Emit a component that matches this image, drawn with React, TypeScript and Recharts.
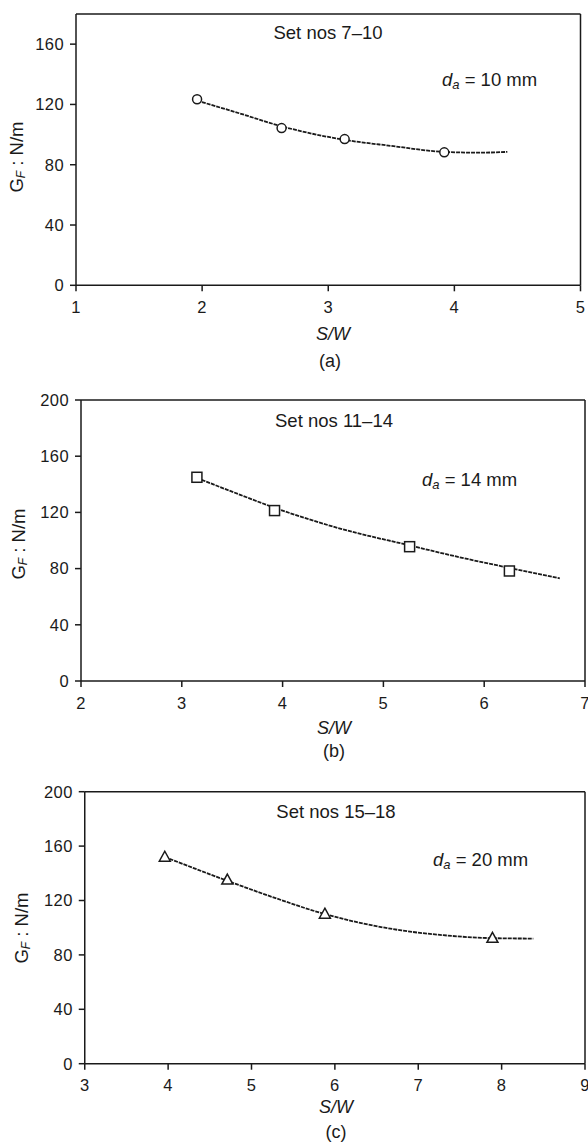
import React from "react"
import {
  ComposedChart,
  Line,
  ReferenceLine,
  Scatter,
  XAxis,
  YAxis,
} from "recharts"

// measured points (S/W, G_F)
const setA_x = [1.96, 2.63, 3.13, 3.92]
const setA_y = [123.4, 104.3, 97, 88.2]
const setB_x = [3.15, 3.92, 5.26, 6.25]
const setB_y = [145, 121.3, 95.6, 78.3]
const setC_x = [3.96, 4.71, 5.88, 7.89]
const setC_y = [151.8, 135, 109.9, 92.2]

// fitted curves
const curveA_x = [1.96, 2.3, 2.63, 3.13, 3.5, 3.92, 4.2, 4.42]
const curveA_y = [122.5, 114, 105.5, 96.5, 92.5, 88.5, 88, 88.5]
const curveB_x = [3.15, 3.58, 3.92, 4.57, 5.26, 5.73, 6.25, 6.75]
const curveB_y = [144.5, 132.5, 123.3, 108.5, 96.5, 88.5, 80.5, 73.1]
const curveC_x = [3.96, 4.71, 5.3, 5.88, 6.8, 7.3, 7.89, 8.38]
const curveC_y = [152, 134.5, 121.5, 110, 98, 94.5, 92.3, 92]

const ticksA_x = [1, 2, 3, 4, 5]
const ticksB_x = [2, 3, 4, 5, 6, 7]
const ticksC_x = [3, 4, 5, 6, 7, 8, 9]
const ticksA_y = [0, 40, 80, 120, 160]
const ticksBC_y = [0, 40, 80, 120, 160, 200]

const titles = ["Set nos 7–10", "Set nos 11–14", "Set nos 15–18"]
const sizes = ["10 mm", "14 mm", "20 mm"]
const captions = ["(a)", "(b)", "(c)"]

const INK = "#1a1a1a"
const FONT = "'Liberation Sans', Arial, sans-serif"

const pairs = (xs: number[], ys: number[]) => xs.map((x, i) => ({ x, y: ys[i] }))

const circle = (p: any) => (
  <circle cx={p.cx} cy={p.cy} r={4.5} fill="#fff" stroke={INK} strokeWidth={1.5} />
)
const square = (p: any) => (
  <rect x={p.cx - 5} y={p.cy - 5} width={10} height={10} fill="#fff" stroke={INK} strokeWidth={1.5} />
)
const triangle = (p: any) => (
  <path
    d={`M${p.cx},${p.cy - 6}L${p.cx + 5.5},${p.cy + 4}L${p.cx - 5.5},${p.cy + 4}Z`}
    fill="#fff"
    stroke={INK}
    strokeWidth={1.5}
  />
)

type Panel = {
  top: number
  height: number
  margin: { top: number; right: number; bottom: number; left: number }
  yWidth: number
  xDomain: [number, number]
  yDomain: [number, number]
  xTicks: number[]
  yTicks: number[]
  points: { x: number; y: number }[]
  curve: { x: number; y: number }[]
  shape: (p: any) => React.ReactElement
  title: [number, number]
  size: [number, number]
  ylab: [number, number]
  xlab: [number, number]
  cap: [number, number]
}

const panels: Panel[] = [
  {
    top: 0,
    height: 370,
    margin: { top: 14, right: 7.5, bottom: 54.7, left: 0 },
    yWidth: 76,
    xDomain: [1, 5],
    yDomain: [0, 180],
    xTicks: ticksA_x,
    yTicks: ticksA_y,
    points: pairs(setA_x, setA_y),
    curve: pairs(curveA_x, curveA_y),
    shape: circle,
    title: [328, 32],
    size: [442, 79],
    ylab: [16, 157],
    xlab: [333, 334],
    cap: [330, 361],
  },
  {
    top: 380,
    height: 380,
    margin: { top: 20, right: 3, bottom: 49, left: 0 },
    yWidth: 81,
    xDomain: [2, 7],
    yDomain: [0, 200],
    xTicks: ticksB_x,
    yTicks: ticksBC_y,
    points: pairs(setB_x, setB_y),
    curve: pairs(curveB_x, curveB_y),
    shape: square,
    title: [334, 40],
    size: [422, 99],
    ylab: [18, 164],
    xlab: [334, 348],
    cap: [334, 371],
  },
  {
    top: 760,
    height: 383,
    margin: { top: 31.7, right: 3, bottom: 49.3, left: 0 },
    yWidth: 84.75,
    xDomain: [3, 9],
    yDomain: [0, 200],
    xTicks: ticksC_x,
    yTicks: ticksBC_y,
    points: pairs(setC_x, setC_y),
    curve: pairs(curveC_x, curveC_y),
    shape: triangle,
    title: [336, 51],
    size: [433, 99],
    ylab: [21, 168],
    xlab: [336, 347],
    cap: [336, 372],
  },
]

const tickStyle = { fill: INK, fontSize: 16.5, fontFamily: FONT, letterSpacing: 0.4 }

function GfPanel({ p, i }: { p: Panel; i: number }) {
  return (
    <div style={{ position: "absolute", left: 0, top: p.top, width: 588, height: p.height }}>
      <ComposedChart width={588} height={p.height} margin={p.margin}>
        <XAxis
          type="number"
          dataKey="x"
          domain={p.xDomain}
          ticks={p.xTicks}
          allowDataOverflow
          height={30}
          tickSize={6}
          tickMargin={10}
          stroke={INK}
          strokeWidth={1.5}
          tick={tickStyle}
          interval={0}
        />
        <YAxis
          type="number"
          dataKey="y"
          domain={p.yDomain}
          ticks={p.yTicks}
          allowDataOverflow
          width={p.yWidth}
          tickSize={6}
          tickMargin={6}
          stroke={INK}
          strokeWidth={1.5}
          tick={tickStyle}
          interval={0}
        />
        <ReferenceLine y={p.yDomain[1]} stroke={INK} strokeWidth={1.5} />
        <ReferenceLine x={p.xDomain[1]} stroke={INK} strokeWidth={1.5} />
        <Line
          data={p.curve}
          dataKey="y"
          type="monotone"
          stroke={INK}
          strokeWidth={1.8}
          strokeDasharray="4 1"
          dot={false}
          activeDot={false}
          isAnimationActive={false}
        />
        <Scatter data={p.points} dataKey="y" shape={p.shape} isAnimationActive={false} />
      </ComposedChart>
      <svg
        width={588}
        height={p.height}
        overflow="visible"
        style={{ position: "absolute", left: 0, top: 0, pointerEvents: "none", overflow: "visible" }}
        fontFamily={FONT}
        fill={INK}
      >
        <text x={p.title[0]} y={p.title[1]} fontSize={18.5} textAnchor="middle" dominantBaseline="central">
          {titles[i]}
        </text>
        <text x={p.size[0]} y={p.size[1]} fontSize={18.5} dominantBaseline="central">
          <tspan fontStyle="italic">d</tspan>
          <tspan fontStyle="italic" fontSize={13} dy={5}>a</tspan>
          <tspan dy={-5}>{" = " + sizes[i]}</tspan>
        </text>
        <text
          x={p.ylab[0]}
          y={p.ylab[1]}
          fontSize={18.5}
          textAnchor="middle"
          dominantBaseline="central"
          transform={`rotate(-90 ${p.ylab[0]} ${p.ylab[1]})`}
        >
          <tspan>G</tspan>
          <tspan fontStyle="italic" fontSize={12} dy={5}>F</tspan>
          <tspan dy={-5}>{" : N/m"}</tspan>
        </text>
        <text x={p.xlab[0]} y={p.xlab[1]} fontSize={18} fontStyle="italic" textAnchor="middle" dominantBaseline="central">
          S/W
        </text>
        <text x={p.cap[0]} y={p.cap[1]} fontSize={18} textAnchor="middle" dominantBaseline="central">
          {captions[i]}
        </text>
      </svg>
    </div>
  )
}

export default function App() {
  return (
    <div style={{ position: "absolute", left: 0, top: 0, width: 588, height: 1143, background: "#fff" }}>
      {panels.map((p, i) => (
        <GfPanel key={i} p={p} i={i} />
      ))}
    </div>
  )
}
